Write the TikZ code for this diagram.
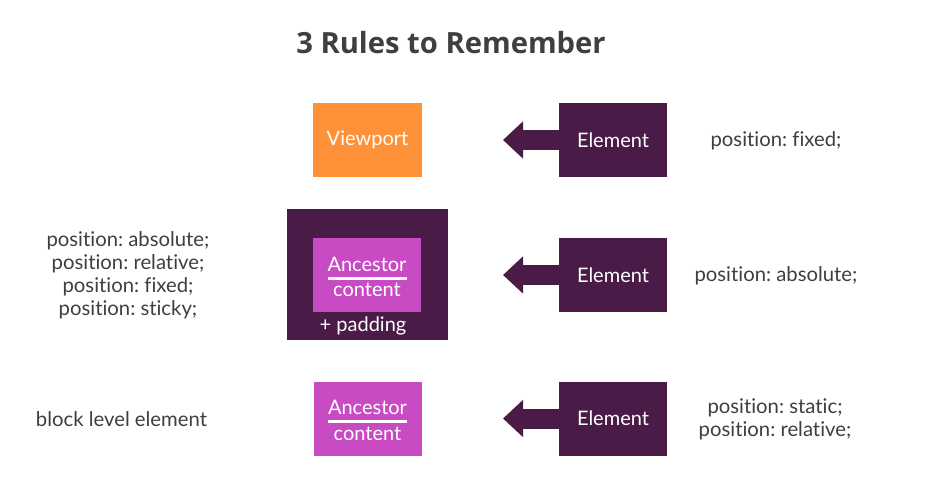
\documentclass[tikz,border=0pt]{standalone}
\usepackage{fontspec}
\setmainfont{Lato}[Ligatures=NoCommon]
\newfontfamily\titlefont{Open Sans}
\usetikzlibrary{arrows.meta,calc}
\frenchspacing
\definecolor{vporange}{HTML}{FF9138}
\definecolor{elpurple}{HTML}{4A1B46}
\definecolor{ancmag}{HTML}{C94BC4}
\definecolor{txtgray}{HTML}{3F3F3F}
\tikzset{
  elbox/.style={fill=elpurple, draw=none, minimum width=108pt, minimum height=74pt, inner sep=0pt, text=white, font=\fontsize{20}{23}\selectfont},
  vpbox/.style={fill=vporange, draw=none, minimum width=109pt, minimum height=74pt, inner sep=0pt, text=white, font=\fontsize{20}{23}\selectfont},
  ancbox/.style={fill=ancmag, draw=none, minimum width=108pt, minimum height=74pt, inner sep=0pt},
  outerbox/.style={fill=elpurple, draw=none, minimum width=161pt, minimum height=131pt, inner sep=0pt},
  wtxt/.style={text=white, inner sep=0pt, font=\fontsize{20}{23}\selectfont},
  lbl/.style={text=txtgray, inner sep=0pt, align=center, font=\fontsize{20.3}{23}\selectfont},
  bigarrow/.style={draw=elpurple, line width=20pt, -{Triangle[length=20pt 0 0, width=36pt 0 0]}},
  rulew/.style={draw=white, line width=3pt},
}
\begin{document}
\begin{tikzpicture}[x=1pt,y=1pt]
\useasboundingbox[fill=white] (0,0) rectangle (940,-495);
% title
\node[text=txtgray, font=\titlefont\bfseries\fontsize{29.2}{33}\selectfont, inner sep=0pt] (title) at (451,-43) {3 Rules to Remember};
% row 1
\node[vpbox] (vp) at (367.5,-140) {Viewport};
\node[elbox] (e1) at (613,-140) {Element};
\coordinate (t1) at (503,-140);
\draw[bigarrow] (e1.west) -- (t1);
\node[lbl] (r1) at (776,-141) {position: fixed;};
% row 2
\node[outerbox] (outer) at (367.5,-274.5) {};
\node[ancbox] (a2) at (367,-275) {};
\node[wtxt] (a2t) at (367,-264) {Ancestor};
\node[wtxt] (a2c) at (367,-290) {content};
\draw[rulew] ($(a2.center)+(-39.5,-3)$) coordinate (u2a) -- ($(a2.center)+(39.5,-3)$) coordinate (u2b);
\node[wtxt] (pad) at (363,-326) {+ padding};
\node[elbox] (e2) at (613,-275) {Element};
\coordinate (t2) at (503,-275);
\draw[bigarrow] (e2.west) -- (t2);
\node[lbl] (r2) at (776,-276) {position: absolute;};
\node[lbl] (l2) at (128,-275.5) {position: absolute;\\position: relative;\\position: fixed;\\position: sticky;};
% row 3
\node[ancbox] (a3) at (367.5,-418.5) {};
\node[wtxt] (a3t) at (367.5,-407) {Ancestor};
\node[wtxt] (a3c) at (367.5,-434) {content};
\draw[rulew] ($(a3.center)+(-39.5,-2.5)$) coordinate (u3a) -- ($(a3.center)+(39.5,-2.5)$) coordinate (u3b);
\node[elbox] (e3) at (613,-418.5) {Element};
\coordinate (t3) at (503,-418.5);
\draw[bigarrow] (e3.west) -- (t3);
\node[lbl] (r3) at (775,-419.5) {position: static;\\position: relative;};
\node[lbl] (l3) at (121.5,-419) {block level element};
\end{tikzpicture}
\end{document}
